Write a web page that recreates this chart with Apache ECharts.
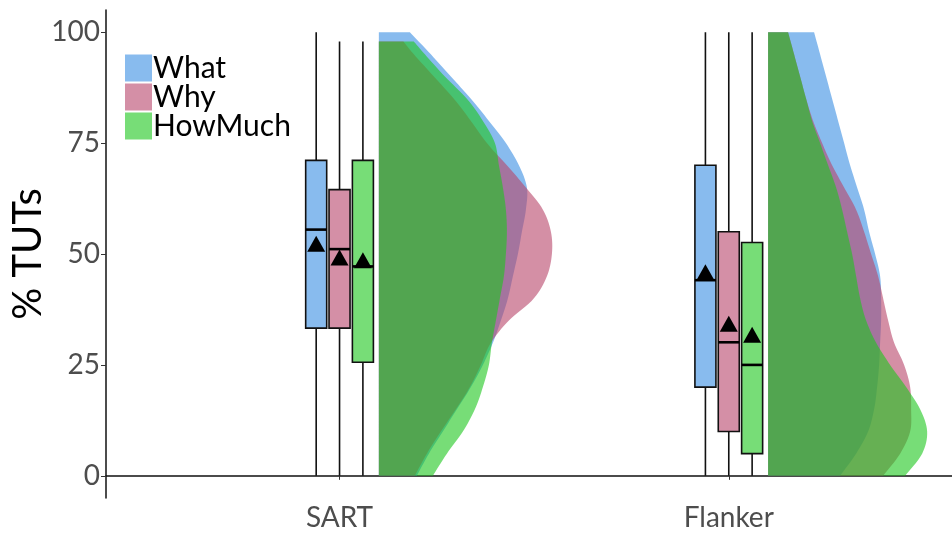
<!DOCTYPE html>
<html>
<head>
<meta charset="utf-8">
<script src="https://cdn.jsdelivr.net/npm/echarts@6/dist/echarts.min.js"></script>
<style>
  html, body { margin: 0; padding: 0; background: #ffffff; }
  #chart { width: 952px; height: 533px; }
</style>
</head>
<body>
<div id="chart"></div>
<script>
// ---- data -------------------------------------------------------------
const categories = ['SART', 'Flanker'];
const groups = ['What', 'Why', 'HowMuch'];
const yTicks = [0, 25, 50, 75, 100];

// box plot summaries, one row per task: [lower whisker, Q1, median, Q3, upper whisker]
const whatBox    = [[0, 33.3, 55.5, 71.1, 100],  [0, 20.0, 44.1, 70.0, 100]];
const whyBox     = [[0, 33.3, 51.1, 64.5, 97.9], [0, 10.0, 30.1, 55.0, 100]];
const howMuchBox = [[0, 25.6, 47.2, 71.1, 97.9], [0,  5.0, 25.0, 52.6, 100]];

// group means per task
const whatMean    = [52.3, 45.9];
const whyMean     = [49.2, 34.3];
const howMuchMean = [48.6, 31.8];

// relative density of %TUTs, evaluated at densityLevels
const densityLevels = [0, 5, 10, 15, 20, 25, 30, 35, 40, 45, 50, 55, 60, 65, 70, 75, 80, 85, 90, 95, 100];
const sartWhatDensity    = [0.38, 0.50, 0.64, 0.78, 0.92, 1.04, 1.14, 1.22, 1.29, 1.34, 1.39, 1.43, 1.47, 1.48, 1.40, 1.27, 1.10, 0.92, 0.72, 0.52, 0.31];
const sartWhyDensity     = [0.36, 0.48, 0.62, 0.77, 0.91, 1.02, 1.12, 1.30, 1.55, 1.68, 1.73, 1.72, 1.64, 1.47, 1.28, 1.08, 0.92, 0.75, 0.55, 0.35, 0.17];
const sartHowMuchDensity = [0.54, 0.68, 0.84, 0.96, 1.04, 1.10, 1.13, 1.17, 1.21, 1.25, 1.27, 1.28, 1.27, 1.24, 1.20, 1.16, 1.04, 0.88, 0.66, 0.46, 0.27];
const flankerWhatDensity    = [0.72, 0.88, 1.00, 1.06, 1.09, 1.11, 1.12, 1.13, 1.13, 1.12, 1.07, 1.01, 0.96, 0.89, 0.82, 0.76, 0.70, 0.64, 0.58, 0.52, 0.46];
const flankerWhyDensity     = [1.15, 1.32, 1.42, 1.43, 1.42, 1.36, 1.26, 1.20, 1.15, 1.10, 1.03, 0.96, 0.88, 0.76, 0.64, 0.54, 0.45, 0.38, 0.32, 0.26, 0.20];
const flankerHowMuchDensity = [1.37, 1.54, 1.59, 1.52, 1.38, 1.22, 1.08, 0.98, 0.92, 0.88, 0.84, 0.79, 0.74, 0.68, 0.60, 0.52, 0.44, 0.38, 0.32, 0.26, 0.20];

// ---- layout & style ---------------------------------------------------
const FONT = 'Lato, "DejaVu Sans", sans-serif';
const boxFill   = { What: '#88bbee', Why: '#d48fa6', HowMuch: '#77dd77' };
const violinFill = { What: 'rgba(57,142,227,0.6)', Why: 'rgba(183,68,105,0.6)', HowMuch: 'rgba(28,198,28,0.6)' };
const dodge = { What: -0.06, Why: 0, HowMuch: 0.06 };
const BOX_WIDTH = 0.054;      // in category units
const VIOLIN_OFFSET = 0.101;  // violin baseline to the right of the category
const VIOLIN_SCALE = 0.257;   // category units per unit of relative density

const boxes = { What: whatBox, Why: whyBox, HowMuch: howMuchBox };
const means = { What: whatMean, Why: whyMean, HowMuch: howMuchMean };
const densities = {
  What:    [sartWhatDensity, flankerWhatDensity],
  Why:     [sartWhyDensity, flankerWhyDensity],
  HowMuch: [sartHowMuchDensity, flankerHowMuchDensity]
};

function densityAt(dens, v) {
  for (let k = 0; k < densityLevels.length - 1; k++) {
    const a = densityLevels[k], b = densityLevels[k + 1];
    if (v >= a && v <= b) {
      const t = (v - a) / (b - a);
      return dens[k] + (dens[k + 1] - dens[k]) * t;
    }
  }
  return dens[dens.length - 1];
}

// Catmull-Rom smoothing of the drawn outline, in pixel space
function smoothOutline(pts, steps) {
  const out = [];
  for (let i = 0; i < pts.length - 1; i++) {
    const p0 = pts[Math.max(i - 1, 0)], p1 = pts[i], p2 = pts[i + 1], p3 = pts[Math.min(i + 2, pts.length - 1)];
    for (let s = 0; s < steps; s++) {
      const t = s / steps, t2 = t * t, t3 = t2 * t;
      const f = (a, b, c, d) => 0.5 * ((2 * b) + (-a + c) * t + (2 * a - 5 * b + 4 * c - d) * t2 + (-a + 3 * b - 3 * c + d) * t3);
      out.push([f(p0[0], p1[0], p2[0], p3[0]), f(p0[1], p1[1], p2[1], p3[1])]);
    }
  }
  out.push(pts[pts.length - 1]);
  return out;
}

function violinSeries(g) {
  return {
    name: g,
    type: 'custom',
    z: 2,
    silent: true,
    itemStyle: { color: boxFill[g] },
    data: categories.map((c, i) => [i + 1, boxes[g][i][0], boxes[g][i][4]]),
    renderItem: function (params, api) {
      const i = params.dataIndex;
      const dens = densities[g][i];
      const base = api.value(0) + VIOLIN_OFFSET;
      const lo = api.value(1), hi = api.value(2);
      const vals = [lo];
      densityLevels.forEach(v => { if (v > lo && v < hi) vals.push(v); });
      vals.push(hi);
      const edge = vals.map(v => api.coord([base + densityAt(dens, v) * VIOLIN_SCALE, v]));
      const pts = [api.coord([base, lo])].concat(smoothOutline(edge, 8), [api.coord([base, hi])]);
      return {
        type: 'polygon',
        shape: { points: pts },
        style: { fill: violinFill[g], stroke: null }
      };
    }
  };
}

function boxSeries(g) {
  return {
    name: g,
    type: 'custom',
    z: 3,
    silent: true,
    itemStyle: { color: boxFill[g] },
    data: categories.map((c, i) => [i + 1 + dodge[g]].concat(boxes[g][i])),
    renderItem: function (params, api) {
      const x = api.value(0);
      const pMin = api.coord([x, api.value(1)]);
      const pQ1 = api.coord([x, api.value(2)]);
      const pMed = api.coord([x, api.value(3)]);
      const pQ3 = api.coord([x, api.value(4)]);
      const pMax = api.coord([x, api.value(5)]);
      const w = api.size([BOX_WIDTH, 0])[0];
      return {
        type: 'group',
        children: [
          { type: 'line', shape: { x1: pMin[0], y1: pMin[1], x2: pMax[0], y2: pMax[1] },
            style: { stroke: '#111', lineWidth: 1.6 } },
          { type: 'rect', shape: { x: pQ3[0] - w / 2, y: pQ3[1], width: w, height: pQ1[1] - pQ3[1] },
            style: { fill: boxFill[g], stroke: '#111', lineWidth: 1.6 } },
          { type: 'line', shape: { x1: pMed[0] - w / 2, y1: pMed[1], x2: pMed[0] + w / 2, y2: pMed[1] },
            style: { stroke: '#000', lineWidth: 2.6 } }
        ]
      };
    }
  };
}

function meanSeries(g) {
  return {
    name: g,
    type: 'scatter',
    z: 4,
    silent: true,
    symbol: 'triangle',
    symbolSize: [18, 16],
    itemStyle: { color: '#000', opacity: 1 },
    data: categories.map((c, i) => [i + 1 + dodge[g], means[g][i]])
  };
}

const series = [];
groups.forEach(g => series.push(boxSeries(g)));
groups.forEach(g => series.push(violinSeries(g)));
groups.forEach(g => series.push(meanSeries(g)));

const chart = echarts.init(document.getElementById('chart'), null, { renderer: 'canvas' });
chart.setOption({
  animation: false,
  backgroundColor: '#ffffff',
  textStyle: { fontFamily: FONT },
  grid: { left: 106, right: 0, top: 10, bottom: 35, containLabel: false, outerBoundsMode: 'none' },
  legend: {
    orient: 'vertical',
    left: 125,
    top: 53,
    icon: 'rect',
    itemWidth: 27,
    itemHeight: 27,
    itemGap: -1,
    selectedMode: false,
    padding: 0,
    data: groups.map(g => ({ name: g, itemStyle: { color: boxFill[g], borderWidth: 0 } })),
    textStyle: { fontFamily: FONT, fontSize: 30, color: '#000', lineHeight: 26, padding: [0, 0, 0, -4] }
  },
  xAxis: {
    type: 'value',
    min: 0.4,
    max: 2.5735,
    splitLine: { show: false },
    axisLine: { show: true, lineStyle: { color: '#111', width: 1.5 } },
    axisTick: { show: true, customValues: [1, 2], length: 4, lineStyle: { color: '#333', width: 1 } },
    axisLabel: {
      customValues: [1, 2],
      formatter: v => categories[Math.round(v) - 1],
      fontFamily: FONT, fontSize: 28, color: '#4d4d4d', margin: 6
    }
  },
  yAxis: {
    type: 'value',
    min: -5,
    max: 105,
    name: '% TUTs',
    nameLocation: 'middle',
    nameRotate: 90,
    nameGap: 58,
    nameMoveOverlap: false,
    nameTextStyle: { fontFamily: FONT, fontSize: 40, color: '#000' },
    splitLine: { show: false },
    axisLine: { show: true, lineStyle: { color: '#111', width: 1.5 } },
    axisTick: { show: true, customValues: yTicks, length: 5, lineStyle: { color: '#333', width: 1 } },
    axisLabel: { customValues: yTicks, fontFamily: FONT, fontSize: 28, color: '#4d4d4d', margin: 6 }
  },
  series: series
});
</script>
</body>
</html>
